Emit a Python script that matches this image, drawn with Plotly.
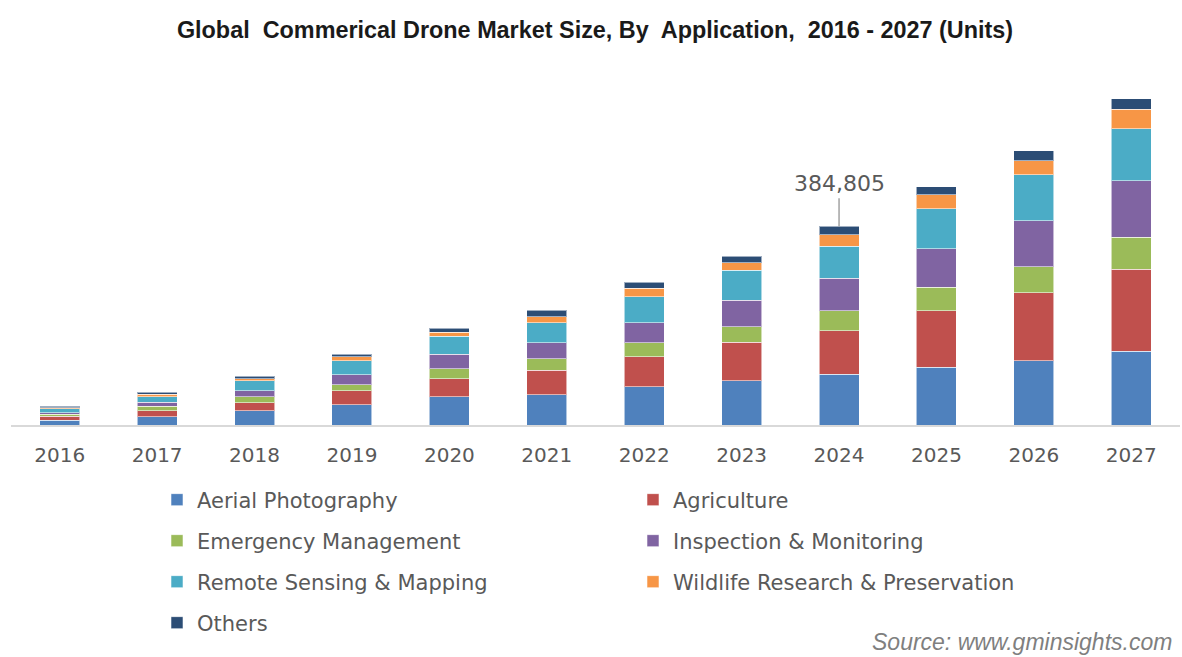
import plotly.graph_objects as go

# Categories and stacked series (units)
years = ["2016", "2017", "2018", "2019", "2020", "2021", "2022", "2023", "2024", "2025", "2026", "2027"]

aerial_photography = [9100, 16100, 27700, 39300, 54800, 58700, 74200, 85800, 98200, 111800, 124000, 143300]
agriculture = [7700, 11600, 15500, 27100, 34900, 47100, 58100, 74200, 84600, 109100, 131700, 158200]
emergency_management = [3900, 8300, 11600, 11600, 19400, 22700, 27100, 30400, 38700, 45900, 50400, 62000]
inspection_monitoring = [3300, 7700, 11600, 19400, 27700, 31000, 38700, 50900, 62600, 75000, 89700, 109800]
remote_sensing_mapping = [7700, 11000, 19400, 27100, 34900, 38700, 50400, 58100, 62000, 76900, 88500, 100100]
wildlife_research = [1400, 4500, 3900, 7700, 7700, 11600, 16100, 14900, 22700, 27100, 27100, 38200]
others = [3300, 3900, 4500, 4500, 7700, 12200, 11600, 13000, 16005, 16100, 19400, 20700]

series_names = [
    "Aerial Photography",
    "Agriculture",
    "Emergency Management",
    "Inspection & Monitoring",
    "Remote Sensing & Mapping",
    "Wildlife Research & Preservation",
    "Others",
]
series_values = [
    aerial_photography,
    agriculture,
    emergency_management,
    inspection_monitoring,
    remote_sensing_mapping,
    wildlife_research,
    others,
]
series_colors = ["#4F81BD", "#C0504D", "#9BBB59", "#8064A2", "#4BACC6", "#F79646", "#2C4D75"]

# Two entries per legend row
legend_rows = ["legend", "legend", "legend2", "legend2", "legend3", "legend3", "legend4"]

labelled_year = "2024"

fig = go.Figure()
for name, vals, color, lg in zip(series_names, series_values, series_colors, legend_rows):
    fig.add_trace(
        go.Bar(
            x=years,
            y=vals,
            name=name,
            marker=dict(color=color, line=dict(color="rgba(255,255,255,0.55)", width=1)),
            legend=lg,
            hoverinfo="x+y+name",
        )
    )

# Total label for the highlighted year (category index on the x axis)
idx = years.index(labelled_year)
total = sum(v[idx] for v in series_values)
fig.add_annotation(
    x=idx,
    y=total,
    text=f"{total:,}",
    showarrow=True,
    arrowhead=0,
    arrowwidth=1.2,
    arrowcolor="#8C8C8C",
    ax=0,
    ay=-28,
    standoff=0,
    font=dict(family="DejaVu Sans", size=22, color="#595959"),
    yanchor="bottom",
)

fig.add_annotation(
    text="<i>Source: www.gminsights.com</i>",
    xref="paper",
    yref="paper",
    x=(1174 - 11) / 1169,
    y=(425 - 642) / 335,
    xanchor="right",
    yanchor="middle",
    showarrow=False,
    font=dict(family="Liberation Sans", size=23, color="#7F7F7F"),
)

legend_common = dict(
    orientation="h",
    xref="container",
    yref="container",
    x=157 / 1182,
    xanchor="left",
    yanchor="middle",
    entrywidth=431,
    entrywidthmode="pixels",
    font=dict(family="DejaVu Sans", size=21, color="#595959"),
    bgcolor="rgba(0,0,0,0)",
    traceorder="normal",
)
row_centers = [500, 541, 582, 623]

fig.update_layout(
    width=1182,
    height=657,
    margin=dict(l=11, r=2, t=90, b=232),
    paper_bgcolor="white",
    plot_bgcolor="white",
    barmode="stack",
    bargap=0.589,
    title=dict(
        text="<b>Global\u00a0 Commerical Drone Market Size, By\u00a0 Application,\u00a0 2016 - 2027 (Units)</b>",
        x=595 / 1182,
        xanchor="center",
        xref="container",
        y=1 - 30 / 657,
        yanchor="middle",
        yref="container",
        font=dict(family="Liberation Sans", size=23.4, color="#1A1A1A"),
    ),
    xaxis=dict(
        type="category",
        categoryorder="array",
        categoryarray=years,
        range=[-0.5, len(years) - 0.5],
        autorange=False,
        showgrid=False,
        ticks="",
        showline=True,
        linecolor="#D9D9D9",
        linewidth=2,
        tickfont=dict(family="DejaVu Sans", size=20, color="#595959"),
        ticklabelstandoff=11,
        fixedrange=True,
    ),
    yaxis=dict(
        range=[0, 335 * 1937],
        autorange=False,
        showgrid=False,
        zeroline=False,
        showticklabels=False,
        ticks="",
        fixedrange=True,
    ),
    legend=dict(legend_common, y=1 - row_centers[0] / 657),
    legend2=dict(legend_common, y=1 - row_centers[1] / 657),
    legend3=dict(legend_common, y=1 - row_centers[2] / 657),
    legend4=dict(legend_common, y=1 - row_centers[3] / 657),
    showlegend=True,
)

fig.write_html("out.html")
